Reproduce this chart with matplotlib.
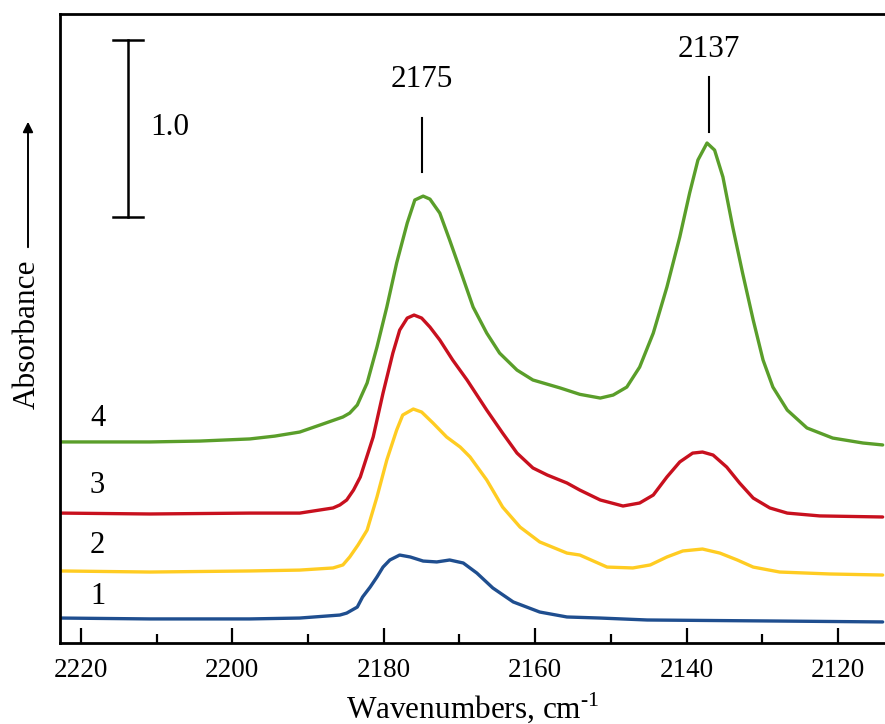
import matplotlib
matplotlib.use("Agg")
import matplotlib.pyplot as plt
from matplotlib.patches import FancyArrowPatch

plt.rcParams['font.family'] = ['Liberation Serif', 'DejaVu Serif']
plt.rcParams['mathtext.fontset'] = 'custom'
plt.rcParams['mathtext.rm'] = 'Liberation Serif'

# spectra (wavenumber, absorbance in units of the 1.0 scale bar)
w1 = [2222.6, 2210.9, 2197.7, 2191.1, 2185.8, 2184.9, 2183.5, 2182.8, 2181.8, 2180.9,
      2180.1, 2179.2, 2177.9, 2176.5, 2174.8, 2173.0, 2171.3, 2169.5, 2167.7, 2165.6,
      2162.9, 2159.4, 2155.8, 2151.4, 2145.2, 2127.7, 2114.1]
a1 = [0.141, 0.136, 0.136, 0.141, 0.158, 0.169, 0.203, 0.260, 0.316, 0.373,
      0.429, 0.469, 0.497, 0.486, 0.463, 0.458, 0.469, 0.452, 0.395, 0.311,
      0.232, 0.175, 0.147, 0.141, 0.130, 0.124, 0.119]

w2 = [2222.6, 2210.9, 2197.7, 2191.1, 2186.7, 2185.4, 2184.5, 2183.4, 2182.2, 2180.9,
      2179.6, 2178.3, 2177.5, 2176.1, 2175.0, 2173.5, 2171.7, 2169.9, 2168.6, 2166.4,
      2164.3, 2162.0, 2159.4, 2155.8, 2154.1, 2150.5, 2147.1, 2144.8, 2142.6, 2140.5,
      2137.9, 2135.6, 2133.3, 2131.2, 2127.7, 2121.1, 2114.1]
a2 = [0.407, 0.401, 0.407, 0.412, 0.424, 0.441, 0.486, 0.554, 0.638, 0.825,
      1.034, 1.203, 1.288, 1.322, 1.305, 1.243, 1.164, 1.107, 1.051, 0.921,
      0.768, 0.655, 0.571, 0.508, 0.497, 0.429, 0.424, 0.441, 0.486, 0.520,
      0.531, 0.508, 0.469, 0.429, 0.401, 0.390, 0.384]

w3 = [2222.6, 2210.9, 2197.7, 2191.1, 2186.7, 2185.8, 2184.9, 2184.0, 2183.1, 2181.4,
      2180.1, 2178.8, 2177.9, 2176.9, 2176.0, 2175.0, 2173.9, 2172.6, 2170.9, 2169.0,
      2166.4, 2164.3, 2162.4, 2160.3, 2158.4, 2155.8, 2154.1, 2151.4, 2148.4, 2146.2,
      2144.4, 2142.6, 2140.9, 2139.2, 2137.9, 2136.5, 2134.7, 2133.0, 2131.2, 2129.0,
      2126.7, 2122.4, 2114.1]
a3 = [0.734, 0.729, 0.734, 0.734, 0.763, 0.780, 0.808, 0.864, 0.938, 1.164,
      1.412, 1.638, 1.768, 1.836, 1.853, 1.836, 1.785, 1.712, 1.599, 1.486,
      1.316, 1.186, 1.073, 0.989, 0.949, 0.904, 0.864, 0.808, 0.774, 0.791,
      0.836, 0.938, 1.023, 1.073, 1.079, 1.062, 0.994, 0.904, 0.819, 0.763,
      0.734, 0.718, 0.712]

w4 = [2222.6, 2217.5, 2210.9, 2204.3, 2197.7, 2194.4, 2191.1, 2188.4, 2185.4, 2184.5,
      2183.5, 2182.2, 2180.9, 2179.6, 2178.3, 2176.9, 2175.9, 2174.8, 2173.9, 2172.6,
      2171.3, 2169.9, 2168.2, 2166.4, 2164.7, 2162.4, 2160.3, 2156.7, 2154.1, 2151.4,
      2149.7, 2147.9, 2146.2, 2144.4, 2142.6, 2140.9, 2139.6, 2138.5, 2137.3, 2136.3,
      2135.2, 2133.9, 2132.6, 2131.2, 2129.9, 2128.6, 2126.7, 2124.1, 2120.7, 2116.7,
      2114.1]
a4 = [1.136, 1.136, 1.136, 1.141, 1.153, 1.169, 1.192, 1.232, 1.277, 1.299,
      1.345, 1.469, 1.672, 1.898, 2.147, 2.373, 2.503, 2.525, 2.508, 2.429,
      2.277, 2.107, 1.898, 1.751, 1.638, 1.542, 1.486, 1.441, 1.405, 1.384,
      1.401, 1.446, 1.559, 1.751, 2.011, 2.294, 2.542, 2.729, 2.825, 2.785,
      2.633, 2.350, 2.090, 1.825, 1.599, 1.446, 1.316, 1.215, 1.158, 1.130,
      1.119]

waves = [w1, w2, w3, w4]
absorb = [a1, a2, a3, a4]
colors = ['#1f4e8f', '#ffcc22', '#c8101e', '#5a9e2a']
curve_labels = ['1', '2', '3', '4']
label_y = [0.26, 0.55, 0.89, 1.27]

peaks = [2175, 2137]
peak_line = [(2.661, 2.966), (2.887, 3.198)]
peak_text_y = [3.185, 3.356]

fig = plt.figure(figsize=(8.85, 7.24), dpi=100)
ax = fig.add_axes([60/885, 81/724, 825/885, 629/724])

for w, a, c, lab, ly in zip(waves, absorb, colors, curve_labels, label_y):
    ax.plot(w, a, color=c, lw=2.4, solid_joinstyle='round', solid_capstyle='round')
    ax.text(2217.8, ly, lab, fontsize=22, ha='center', va='center')

# peak markers
for p, (y0, y1), ty in zip(peaks, peak_line, peak_text_y):
    ax.plot([p, p], [y0, y1], color='k', lw=1.5)
    ax.text(p, ty, str(p), fontsize=22.5, ha='center', va='center')

# scale bar 1.0
sx = 2213.8
ax.plot([sx, sx], [2.407, 3.407], color='k', lw=1.8)
ax.plot([sx + 2.0, sx - 2.0], [3.407, 3.407], color='k', lw=1.8)
ax.plot([sx + 2.0, sx - 2.0], [2.407, 2.407], color='k', lw=1.8)
ax.text(2210.9, 2.915, '1.0', fontsize=22.5, ha='left', va='center')

ax.set_xlim(2222.77, 2113.79)
ax.set_ylim(0, 3.554)
ax.set_xticks([2220, 2200, 2180, 2160, 2140, 2120])
ax.set_xticks([2210, 2190, 2170, 2150, 2130], minor=True)
ax.tick_params(axis='x', which='major', direction='in', length=11, width=1.6,
               labelsize=19.5, pad=11)
ax.tick_params(axis='x', which='minor', direction='in', length=6.5, width=1.6)
ax.set_yticks([])
for s in ['left', 'top', 'bottom']:
    ax.spines[s].set_linewidth(2)
ax.spines['right'].set_visible(False)

ax.set_xlabel(r'Wavenumbers, cm$^{\text{-}1}$', fontsize=22.5, labelpad=5)

fig.text(27/885, 1 - 334/724, 'Absorbance', fontsize=22.5, rotation=90,
         ha='center', va='center')
fig.add_artist(FancyArrowPatch(
    (28/885, 1 - 250/724), (28/885, 1 - 119/724), transform=fig.transFigure,
    arrowstyle='-|>,head_length=6,head_width=3', color='k', lw=1.4))

fig.savefig('out.png', dpi=100)
